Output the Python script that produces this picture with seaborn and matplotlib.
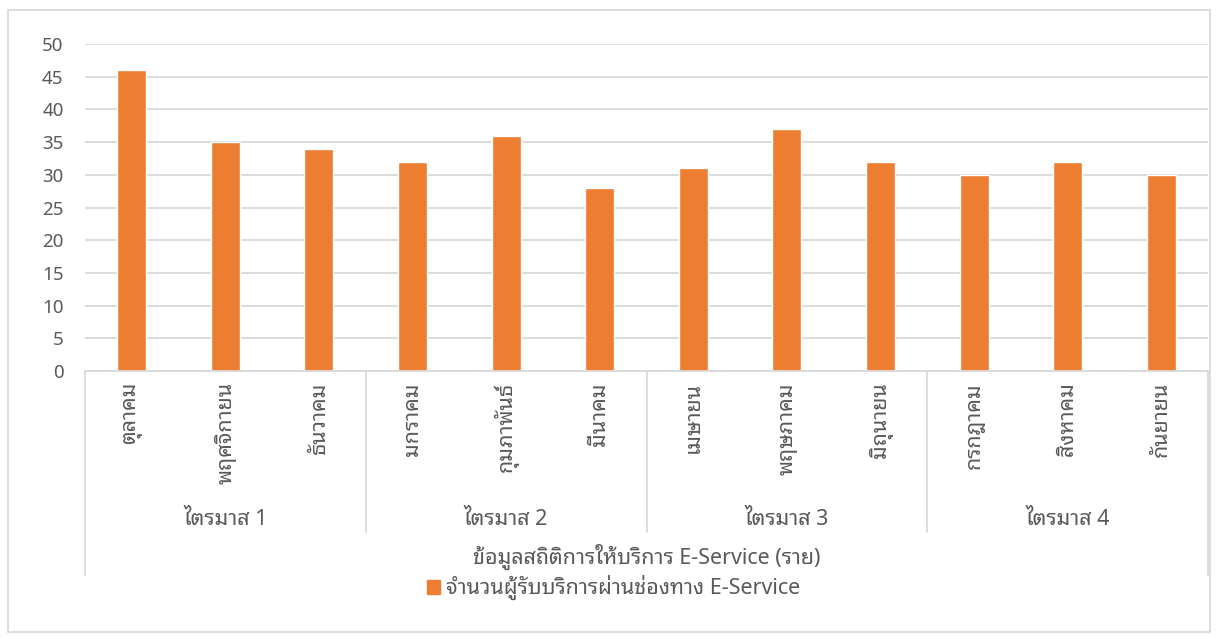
import matplotlib
matplotlib.use("Agg")
import matplotlib.pyplot as plt
import matplotlib.patches as mpatches
import matplotlib.transforms as mtransforms
import pandas as pd
import seaborn as sns

months = ['ตุลาคม', 'พฤศจิกายน', 'ธันวาคม', 'มกราคม', 'กุมภาพันธ์', 'มีนาคม',
          'เมษายน', 'พฤษภาคม', 'มิถุนายน', 'กรกฎาคม', 'สิงหาคม', 'กันยายน']
values = [46, 35, 34, 32, 36, 28, 31, 37, 32, 30, 32, 30]
quarters = ['ไตรมาส 1', 'ไตรมาส 2', 'ไตรมาส 3', 'ไตรมาส 4']
series_name = 'จำนวนผู้รับบริการผ่านช่องทาง E-Service'
axis_title = 'ข้อมูลสถิติการให้บริการ E-Service (ราย)'

sns.set_style('white')
plt.rcParams['font.family'] = ['Noto Sans Thai Looped', 'DejaVu Sans']
text_color = '#595959'
line_color = '#d9d9d9'
bar_color = '#ED7D31'
thai_size = 15.5

df = pd.DataFrame({'month': months, 'value': values})

fig = plt.figure(figsize=(12.2, 6.39), dpi=100)
ax = fig.add_axes([0.0697, 0.4194, 0.9205, 0.5116])

sns.barplot(data=df, x='month', y='value', color=bar_color, width=0.31,
            saturation=1, ax=ax)

ax.set_ylim(0, 50)
ax.set_xlim(-0.5, len(months) - 0.5)
ax.set_yticks(range(0, 51, 5))
ax.yaxis.grid(True, color=line_color, linewidth=1.3)
ax.set_axisbelow(True)
for s in ['top', 'right', 'left']:
    ax.spines[s].set_visible(False)
ax.spines['bottom'].set_color(line_color)
ax.spines['bottom'].set_linewidth(1.3)
ax.tick_params(axis='both', length=0, colors=text_color)
ax.tick_params(axis='y', pad=15.5, labelsize=13.5)
ax.tick_params(axis='x', pad=8, labelsize=thai_size)
ax.set_xticks(range(len(months)))
ax.set_xticklabels(months, rotation=90, va='top', ha='center')
ax.set_xlabel('')
ax.set_ylabel('')

# category group separators
trans = mtransforms.blended_transform_factory(ax.transData, ax.transAxes)
bounds = [-0.5, 2.5, 5.5, 8.5, 11.5]
for i, b in enumerate(bounds):
    low = -0.624 if i in (0, len(bounds) - 1) else -0.492
    ax.plot([b, b], [0, low], transform=trans, color=line_color,
            linewidth=1.3, clip_on=False)
for i, q in enumerate(quarters):
    ax.text(3 * i + 1, -0.453, q, transform=trans, ha='center', va='center',
            fontsize=thai_size, color=text_color)
ax.text(0.5, -0.569, axis_title, transform=ax.transAxes, ha='center',
        va='center', fontsize=thai_size, color=text_color)

handle = mpatches.Patch(color=bar_color)
fig.legend([handle], [series_name], loc='center', bbox_to_anchor=(0.503, 0.080),
           frameon=False, fontsize=thai_size, labelcolor=text_color,
           handlelength=0.6, handleheight=0.6, handletextpad=0.3)

fig.patches.append(mpatches.Rectangle((0.0066, 0.011), 0.985, 0.973,
                                      transform=fig.transFigure, fill=False,
                                      edgecolor=line_color, linewidth=1.3))

fig.savefig('out.png', dpi=100)
